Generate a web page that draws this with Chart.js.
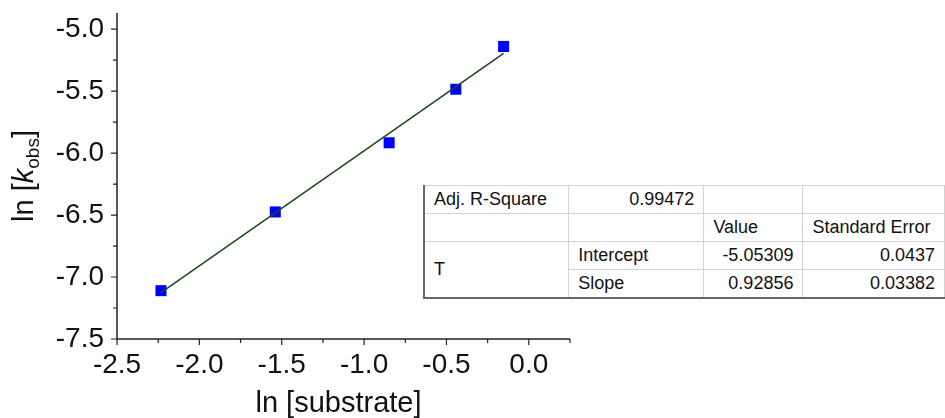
<!DOCTYPE html>
<html>
<head>
<meta charset="utf-8">
<script src="https://cdn.jsdelivr.net/npm/chart.js@4.4.1/dist/chart.umd.min.js"></script>
<style>
    html, body { margin: 0; padding: 0; background: #fff; }
    body { width: 945px; height: 418px; overflow: hidden; position: relative; }
    #wrap { position: absolute; left: 0; top: 0; width: 945px; height: 418px; }
    #fitTable {
        position: absolute; left: 423px; top: 185px;
        border-collapse: collapse;
        font-family: "Liberation Sans", Arial, sans-serif;
        font-size: 18px; color: #111;
        background: #fff;
        table-layout: fixed;
    }
    #fitTable td {
        border: 1px solid #d2d2d2;
        padding: 0 9px;
        height: 27px;
        white-space: nowrap;
    }
    #fitTable td.num { text-align: right; }
    #fitTable td.edge { border-left: 2px solid #666; }
    #fitTable td.foot { border-bottom: 2px solid #666; }
</style>
</head>
<body>
<div id="wrap"><canvas id="fitChart" width="945" height="418"></canvas></div>
<table id="fitTable">
    <colgroup>
        <col style="width:146px"><col style="width:140px"><col style="width:100px"><col style="width:142px">
    </colgroup>
    <tr><td class="edge">Adj. R-Square</td><td class="num" id="adjR2"></td><td></td><td></td></tr>
    <tr><td class="edge"></td><td></td><td>Value</td><td>Standard Error</td></tr>
    <tr><td rowspan="2" class="edge foot">T</td><td>Intercept</td><td class="num" id="intVal"></td><td class="num" id="intErr"></td></tr>
    <tr><td class="foot">Slope</td><td class="num foot" id="slopeVal"></td><td class="num foot" id="slopeErr"></td></tr>
</table>
<script>
// measured points
const lnSubstrate = [-2.233, -1.539, -0.848, -0.443, -0.153];
const lnKobs = [-7.11, -6.475, -5.917, -5.485, -5.14];

// linear fit results
const adjRSquare = '0.99472';
const intercept = -5.05309;
const interceptErr = '0.0437';
const slope = 0.92856;
const slopeErr = '0.03382';

// axis ranges
const xRange = [-2.5, 0.25];
const yRange = [-7.5, -4.87];

const FONT = '"Liberation Sans", Arial, sans-serif';
const INK = '#111';

document.getElementById('adjR2').textContent = adjRSquare;
document.getElementById('intVal').textContent = intercept.toFixed(5);
document.getElementById('intErr').textContent = interceptErr;
document.getElementById('slopeVal').textContent = slope.toFixed(5);
document.getElementById('slopeErr').textContent = slopeErr;

const points = lnSubstrate.map((x, i) => ({ x: x, y: lnKobs[i] }));
const xFirst = lnSubstrate[0];
const xLast = lnSubstrate[lnSubstrate.length - 1];
const fitLine = [
    { x: xFirst, y: intercept + slope * xFirst },
    { x: xLast, y: intercept + slope * xLast }
];

// axis lines, major/minor ticks and the axis titles
const axesPlugin = {
    id: 'originAxes',
    afterDraw(chart) {
        const ctx = chart.ctx;
        const area = chart.chartArea;
        const xs = chart.scales.x;
        const ys = chart.scales.y;
        ctx.save();
        ctx.strokeStyle = '#222';
        ctx.lineWidth = 1.5;
        ctx.beginPath();
        ctx.moveTo(area.left, area.top);
        ctx.lineTo(area.left, area.bottom);
        ctx.lineTo(area.right, area.bottom);
        ctx.stroke();

        ctx.lineWidth = 1.2;
        ctx.beginPath();
        for (let v = xRange[0]; v <= xRange[1] + 1e-9; v += 0.25) {
            const px = xs.getPixelForValue(v);
            const major = Math.abs(Math.round(v * 2) - v * 2) < 1e-6;
            ctx.moveTo(px, area.bottom);
            ctx.lineTo(px, area.bottom + (major ? 6 : 4));
        }
        for (let v = yRange[0]; v <= yRange[1] + 1e-9; v += 0.25) {
            const py = ys.getPixelForValue(v);
            const major = Math.abs(Math.round(v * 2) - v * 2) < 1e-6;
            ctx.moveTo(area.left, py);
            ctx.lineTo(area.left - (major ? 6 : 4), py);
        }
        ctx.stroke();

        // x title
        ctx.fillStyle = INK;
        ctx.font = '29px ' + FONT;
        ctx.textAlign = 'center';
        ctx.textBaseline = 'middle';
        ctx.fillText('ln [substrate]', (area.left + area.right) / 2 - 5, area.bottom + 65);

        // y title: ln [k_obs] with italic k and subscript
        ctx.translate(33, (area.top + area.bottom) / 2);
        ctx.rotate(-Math.PI / 2);
        ctx.textBaseline = 'alphabetic';
        const parts = [
            { t: 'ln [', f: '29px ' + FONT, dy: 0 },
            { t: 'k', f: 'italic 29px ' + FONT, dy: 0 },
            { t: 'obs', f: '19px ' + FONT, dy: 6 },
            { t: ']', f: '29px ' + FONT, dy: 0 }
        ];
        let total = 0;
        parts.forEach(p => { ctx.font = p.f; p.w = ctx.measureText(p.t).width; total += p.w; });
        let cx = -total / 2;
        ctx.textAlign = 'left';
        parts.forEach(p => {
            ctx.font = p.f;
            ctx.fillText(p.t, cx, p.dy);
            cx += p.w;
        });
        ctx.restore();
    }
};

const chart = new Chart(document.getElementById('fitChart').getContext('2d'), {
    type: 'scatter',
    data: {
        datasets: [
            {
                type: 'line',
                label: 'Linear fit',
                data: fitLine,
                borderColor: '#1d4a1d',
                borderWidth: 1.6,
                pointRadius: 0,
                fill: false,
                order: 0
            },
            {
                label: 'ln kobs',
                data: points,
                pointStyle: 'rect',
                pointRadius: 7.8,
                backgroundColor: '#0000ff',
                borderWidth: 0,
                order: 1
            }
        ]
    },
    options: {
        responsive: false,
        animation: false,
        events: [],
        layout: { padding: { top: 13, right: 375, left: 0, bottom: 0 } },
        plugins: {
            legend: { display: false },
            tooltip: { enabled: false }
        },
        scales: {
            x: {
                type: 'linear',
                min: xRange[0],
                max: xRange[1],
                border: { display: false },
                grid: { display: false, drawTicks: false },
                afterFit(scale) {
                    scale.height = 79;
                    scale.paddingLeft = 0;
                    scale.paddingRight = 0;
                },
                ticks: {
                    stepSize: 0.5,
                    includeBounds: false,
                    padding: 9,
                    color: INK,
                    font: { family: FONT, size: 28 },
                    maxRotation: 0,
                    callback: v => v.toFixed(1)
                }
            },
            y: {
                type: 'linear',
                min: yRange[0],
                max: yRange[1],
                border: { display: false },
                grid: { display: false, drawTicks: false },
                afterFit(scale) {
                    scale.width = 117;
                    scale.paddingTop = 0;
                    scale.paddingBottom = 0;
                },
                ticks: {
                    stepSize: 0.5,
                    includeBounds: false,
                    padding: 13,
                    color: INK,
                    font: { family: FONT, size: 28 },
                    callback: v => v.toFixed(1)
                }
            }
        }
    },
    plugins: [axesPlugin]
});
</script>
</body>
</html>
